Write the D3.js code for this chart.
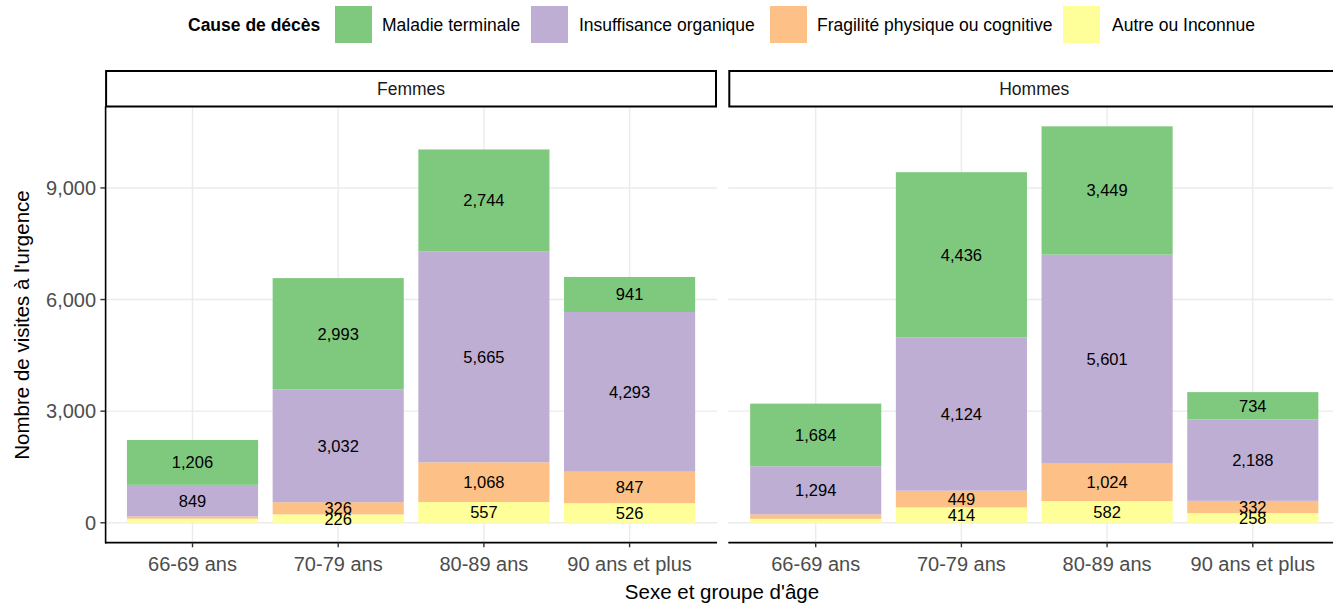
<!DOCTYPE html>
<html><head><meta charset="utf-8">
<script src="https://cdn.jsdelivr.net/npm/d3@7"></script>
<style>body{margin:0;background:#fff}svg{display:block;font-family:"Liberation Sans",Arial,sans-serif}</style>
</head><body><svg id="c" width="1333" height="603"></svg>
<script>
const sexes = ["Femmes", "Hommes"];
const ageGroups = ["66-69 ans", "70-79 ans", "80-89 ans", "90 ans et plus"];
const causes = ["Autre ou Inconnue", "Fragilité physique ou cognitive", "Insuffisance organique", "Maladie terminale"];
const legendOrder = ["Maladie terminale", "Insuffisance organique", "Fragilité physique ou cognitive", "Autre ou Inconnue"];
const colors = ["#ffff99", "#fdc086", "#beaed4", "#7fc97f"];
// values per sex, per age group, in causes order
const femmesValues = [
  [110, 60, 849, 1206],
  [226, 326, 3032, 2993],
  [557, 1068, 5665, 2744],
  [526, 847, 4293, 941]
];
const hommesValues = [
  [105, 120, 1294, 1684],
  [414, 449, 4124, 4436],
  [582, 1024, 5601, 3449],
  [258, 332, 2188, 734]
];
const yTicks = [0, 3000, 6000, 9000];
const labelMin = 200;

const svg = d3.select("#c");
const color = d3.scaleOrdinal().domain(causes).range(colors);
const fmt = d3.format(",");

const allVals = [femmesValues, hommesValues];
const maxTotal = d3.max(allVals.flat().map(r => d3.sum(r)));
const yBot = 542.6, stripTop = 71, stripBot = 106.5;
const y = d3.scaleLinear().domain([-0.05 * maxTotal, maxTotal * 1.05]).range([yBot, stripBot]);

const panels = [{x0: 105.1, x1: 717}, {x0: 728.3, x1: 1340.2}];

sexes.forEach((sex, si) => {
  const p = panels[si];
  const x = d3.scaleBand().domain(ageGroups).range([p.x0, p.x1]).paddingInner(0.1).paddingOuter(0.15);
  const cx = a => x(a) + x.bandwidth() / 2;
  const bw = x.bandwidth();
  const g = svg.append("g");
  // grid
  g.selectAll("line.hg").data(yTicks).join("line")
    .attr("x1", p.x0).attr("x2", p.x1).attr("y1", d => y(d)).attr("y2", d => y(d))
    .attr("stroke", "#ebebeb").attr("stroke-width", 1.4);
  g.selectAll("line.vg").data(ageGroups).join("line")
    .attr("x1", d => cx(d)).attr("x2", d => cx(d)).attr("y1", stripBot).attr("y2", yBot)
    .attr("stroke", "#ebebeb").attr("stroke-width", 1.4);
  // stacked bars
  const rows = ageGroups.map((a, i) => {
    const o = {age: a};
    causes.forEach((c, j) => o[c] = allVals[si][i][j]);
    return o;
  });
  const stack = d3.stack().keys(causes)(rows);
  stack.forEach(layer => {
    g.selectAll(null).data(layer).join("rect")
      .attr("x", d => x(d.data.age)).attr("width", bw)
      .attr("y", d => y(d[1])).attr("height", d => y(d[0]) - y(d[1]))
      .attr("fill", color(layer.key));
  });
  stack.forEach(layer => {
    g.selectAll(null).data(layer.filter(d => d[1] - d[0] >= labelMin)).join("text")
      .attr("x", d => cx(d.data.age)).attr("y", d => y((d[0] + d[1]) / 2))
      .attr("dy", "0.36em").attr("text-anchor", "middle").attr("font-size", 16.5).attr("fill", "#000")
      .text(d => fmt(d[1] - d[0]));
  });
  // strip
  g.append("rect").attr("x", p.x0 + 1).attr("y", stripTop).attr("width", p.x1 - p.x0 - 2).attr("height", stripBot - stripTop)
    .attr("fill", "#fff").attr("stroke", "#000").attr("stroke-width", 2);
  g.append("text").attr("x", (p.x0 + p.x1) / 2).attr("y", (stripTop + stripBot) / 2).attr("dy", "0.36em")
    .attr("text-anchor", "middle").attr("font-size", 17.5).attr("fill", "#1a1a1a").text(sex);
  // x axis
  g.append("line").attr("x1", p.x0).attr("x2", p.x1).attr("y1", yBot).attr("y2", yBot).attr("stroke", "#000").attr("stroke-width", 1.6);
  g.selectAll(null).data(ageGroups).join("line")
    .attr("x1", d => cx(d)).attr("x2", d => cx(d)).attr("y1", yBot).attr("y2", yBot + 4.7).attr("stroke", "#333").attr("stroke-width", 1.4);
  g.selectAll(null).data(ageGroups).join("text")
    .attr("x", d => cx(d)).attr("y", 564).attr("dy", "0.36em").attr("text-anchor", "middle")
    .attr("font-size", 20).attr("fill", "#4d4d4d").text(d => d);
  if (si === 0) {
    g.append("line").attr("x1", p.x0 + 0.5).attr("x2", p.x0 + 0.5).attr("y1", stripBot).attr("y2", yBot + 0.8).attr("stroke", "#000").attr("stroke-width", 1.6);
    g.selectAll(null).data(yTicks).join("line")
      .attr("x1", p.x0 - 4.7).attr("x2", p.x0).attr("y1", d => y(d)).attr("y2", d => y(d)).attr("stroke", "#333").attr("stroke-width", 1.4);
    g.selectAll(null).data(yTicks).join("text")
      .attr("x", p.x0 - 9).attr("y", d => y(d)).attr("dy", "0.36em").attr("text-anchor", "end")
      .attr("font-size", 20).attr("fill", "#4d4d4d").text(d => fmt(d));
  }
});

// axis titles
svg.append("text").attr("x", 722).attr("y", 592).attr("dy", "0.36em").attr("text-anchor", "middle")
  .attr("font-size", 20.5).attr("fill", "#000").text("Sexe et groupe d'âge");
svg.append("text").attr("transform", "translate(22,325) rotate(-90)").attr("dy", "0.36em").attr("text-anchor", "middle")
  .attr("font-size", 20.5).attr("fill", "#000").text("Nombre de visites à l'urgence");

// legend
const lg = svg.append("g");
lg.append("text").attr("x", 188).attr("y", 25).attr("dy", "0.36em").attr("font-size", 17.5).attr("font-weight", "bold").text("Cause de décès");
const keyX = [335, 531, 770, 1063];
const txtX = [382, 579, 817, 1112];
legendOrder.forEach((c, i) => {
  lg.append("rect").attr("x", keyX[i]).attr("y", 6).attr("width", 37).attr("height", 37).attr("fill", color(c));
  lg.append("text").attr("x", txtX[i]).attr("y", 25).attr("dy", "0.36em").attr("font-size", 17.5).attr("fill", "#000").text(c);
});
</script></body></html>
